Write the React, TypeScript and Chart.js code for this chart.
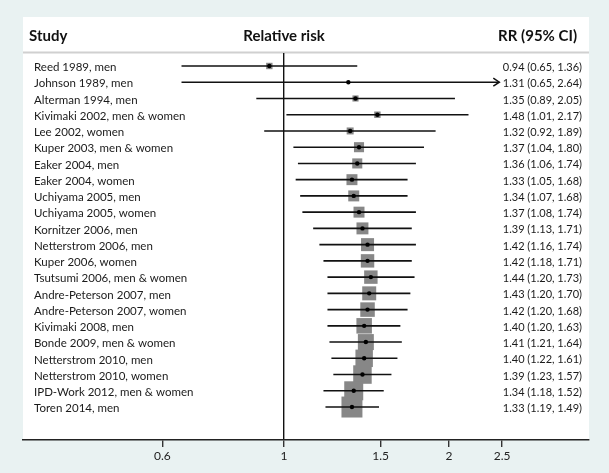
import React, { useEffect, useRef } from 'react';
import { Chart, registerables } from 'chart.js';

Chart.register(...registerables);

// ---- Data ----
const studies = [
  'Reed 1989, men',
  'Johnson 1989, men',
  'Alterman 1994, men',
  'Kivimaki 2002, men & women',
  'Lee 2002, women',
  'Kuper 2003, men & women',
  'Eaker 2004, men',
  'Eaker 2004, women',
  'Uchiyama 2005, men',
  'Uchiyama 2005, women',
  'Kornitzer 2006, men',
  'Netterstrom 2006, men',
  'Kuper 2006, women',
  'Tsutsumi 2006, men & women',
  'Andre-Peterson 2007, men',
  'Andre-Peterson 2007, women',
  'Kivimaki 2008, men',
  'Bonde 2009, men & women',
  'Netterstrom 2010, men',
  'Netterstrom 2010, women',
  'IPD-Work 2012, men & women',
  'Toren 2014, men',
];
const rr = [0.94, 1.31, 1.35, 1.48, 1.32, 1.37, 1.36, 1.33, 1.34, 1.37, 1.39, 1.42, 1.42, 1.44, 1.43, 1.42, 1.40, 1.41, 1.40, 1.39, 1.34, 1.33];
const lower = [0.65, 0.65, 0.89, 1.01, 0.92, 1.04, 1.06, 1.05, 1.07, 1.08, 1.13, 1.16, 1.18, 1.20, 1.20, 1.20, 1.20, 1.21, 1.22, 1.23, 1.18, 1.19];
const upper = [1.36, 2.64, 2.05, 2.17, 1.89, 1.80, 1.74, 1.68, 1.68, 1.74, 1.71, 1.74, 1.71, 1.73, 1.70, 1.68, 1.63, 1.64, 1.61, 1.57, 1.52, 1.49];
// study weights (%), box area proportional to weight
const weights = [1.1, 0.05, 1.0, 1.1, 1.3, 2.7, 2.7, 3.2, 3.2, 3.2, 3.8, 4.5, 4.8, 4.8, 5.2, 5.6, 6.4, 6.8, 8.1, 9.1, 9.6, 11.7];
const xTicks = [0.6, 1, 1.5, 2, 2.5];
const refValue = 1;
const ciClip = 2.47; // CIs beyond this are drawn with an arrow
const xMin = 0.334;
const xMax = 3.6;

const headers = ['Study', 'Relative risk', 'RR (95% CI)'];

const FONT = 'Lato, "Open Sans", sans-serif';
const W = 609;
const H = 473;
const PANEL = { left: 23, top: 17, right: 589 };
const BG = '#e9f2f2';

function boxSide(w: number) {
  return Math.sqrt(w) * 6.13;
}

export default function App() {
  const ref = useRef<HTMLCanvasElement>(null);

  useEffect(() => {
    const canvas = ref.current!;
    const idx = studies.map((_, i) => i);

    const ciSets: any[] = idx.map((i) => ({
      data: [
        { x: lower[i], y: i },
        { x: Math.min(upper[i], ciClip), y: i },
      ],
      showLine: true,
      borderColor: '#111',
      borderWidth: 1.6,
      pointRadius: 0,
      order: 1,
    }));

    const forestPlugin = {
      id: 'forest',
      beforeDraw(chart: any) {
        const c = chart.ctx;
        const area = chart.chartArea;
        c.save();
        c.fillStyle = BG;
        c.fillRect(0, 0, W, H);
        c.fillStyle = '#ffffff';
        c.fillRect(PANEL.left, PANEL.top, PANEL.right - PANEL.left, area.bottom - PANEL.top);
        c.fillStyle = '#d0d0d0';
        c.fillRect(PANEL.left, area.top - 1.5, PANEL.right - PANEL.left, 2);
        c.fillStyle = '#111';
        c.font = `bold 15px ${FONT}`;
        c.textBaseline = 'middle';
        c.textAlign = 'left';
        c.fillText(headers[0], 29, 36);
        c.textAlign = 'center';
        c.fillText(headers[1], chart.scales.x.getPixelForValue(refValue), 36);
        c.textAlign = 'right';
        c.fillText(headers[2], 577, 36);
        c.restore();
      },
      afterDraw(chart: any) {
        const c = chart.ctx;
        const xs = chart.scales.x;
        const ys = chart.scales.y;
        c.save();
        c.fillStyle = '#1a1a1a';
        c.textBaseline = 'middle';
        idx.forEach((i) => {
          const y = ys.getPixelForValue(i) + 1.5;
          c.textAlign = 'left';
          c.font = `11.5px ${FONT}`;
          c.fillText(studies[i], 34, y);
          c.textAlign = 'right';
          c.font = `11px ${FONT}`;
          c.fillText(`${rr[i].toFixed(2)} (${lower[i].toFixed(2)}, ${upper[i].toFixed(2)})`, 582, y);
          if (upper[i] > ciClip) {
            const tip = xs.getPixelForValue(ciClip);
            const yy = ys.getPixelForValue(i);
            c.strokeStyle = '#111';
            c.lineWidth = 1.5;
            c.beginPath();
            c.moveTo(tip - 6, yy - 4);
            c.lineTo(tip, yy);
            c.lineTo(tip - 6, yy + 4);
            c.stroke();
          }
        });
        c.restore();
      },
    };

    const chart = new Chart(canvas, {
      type: 'scatter',
      data: {
        datasets: [
          {
            data: idx.map((i) => ({ x: rr[i], y: i })),
            pointStyle: 'circle',
            pointRadius: 2.2,
            backgroundColor: '#000',
            borderWidth: 0,
            order: 0,
          },
          ...ciSets,
          {
            data: idx.map((i) => ({ x: rr[i], y: i })),
            pointStyle: 'rect',
            pointRadius: (ctx: any) => boxSide(weights[ctx.dataIndex]) / Math.SQRT2,
            backgroundColor: '#878787',
            borderWidth: 0,
            order: 2,
          },
        ],
      },
      options: {
        responsive: false,
        animation: false,
        events: [],
        layout: { padding: { left: PANEL.left, right: W - PANEL.right, top: 53, bottom: 0 } },
        plugins: { legend: { display: false }, tooltip: { enabled: false } },
        scales: {
          x: {
            type: 'logarithmic',
            bounds: 'data',
            min: xMin,
            max: xMax,
            afterBuildTicks: (s: any) => {
              s.ticks = xTicks.map((v) => ({ value: v }));
            },
            afterFit: (s: any) => {
              s.height = 33;
            },
            ticks: {
              callback: (v: any) => String(v),
              font: { family: FONT, size: 12 },
              color: '#222',
              padding: 2,
              maxRotation: 0,
              autoSkip: false,
            },
            grid: {
              color: (c: any) => (c.tick && c.tick.value === refValue ? '#111' : 'rgba(0,0,0,0)'),
              lineWidth: 1.4,
              drawOnChartArea: true,
              drawTicks: true,
              tickLength: 7,
              tickColor: '#333',
              tickWidth: 1.4,
            },
            border: { display: true, color: '#222', width: 1.4 },
          },
          y: {
            type: 'linear',
            reverse: true,
            min: -0.8,
            max: 23.03,
            display: false,
          },
        },
      },
      plugins: [forestPlugin],
    } as any);

    return () => chart.destroy();
  }, []);

  return (
    <div style={{ position: 'fixed', left: 0, top: 0, width: W, height: H }}>
      <canvas ref={ref} width={W} height={H} style={{ display: 'block' }} />
    </div>
  );
}
